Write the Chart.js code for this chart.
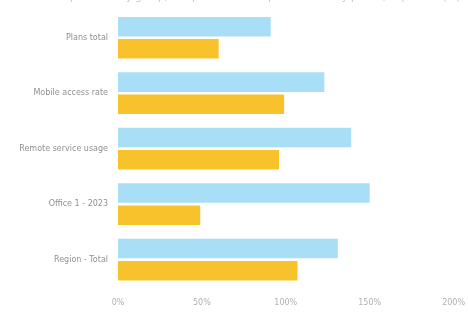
<!DOCTYPE html>
<html>
<head>
<meta charset="utf-8">
<script src="https://cdn.jsdelivr.net/npm/chart.js@4"></script>
<style>
  html, body { margin: 0; padding: 0; background: #fff; overflow: hidden; }
  #wrap { position: relative; width: 468px; height: 320px; margin-top: -9px; }
</style>
</head>
<body>
<div id="wrap"><canvas id="c"></canvas></div>
<script>
const categories = ['Plans total', 'Mobile access rate', 'Remote service usage', 'Office 1 - 2023', 'Region - Total'];
const seriesA = [91, 123, 139, 150, 131];
const seriesB = [60, 99, 96, 49, 107];
const xTicks = [0, 50, 100, 150, 200];

new Chart(document.getElementById('c'), {
    type: 'bar',
    data: {
        labels: categories,
        datasets: [
            {
                label: 'Current',
                data: seriesA,
                backgroundColor: '#a9dff6',
                categoryPercentage: 0.8,
                barPercentage: 0.88
            },
            {
                label: 'Previous',
                data: seriesB,
                backgroundColor: '#f8c22c',
                categoryPercentage: 0.8,
                barPercentage: 0.88
            }
        ]
    },
    options: {
        indexAxis: 'y',
        responsive: true,
        maintainAspectRatio: false,
        animation: false,
        layout: { padding: { left: 4, right: 2 } },
        plugins: {
            legend: { display: false },
            tooltip: { enabled: false },
            title: {
                display: true,
                text: 'Share of respondents by group, compared with the previous survey period, in percent (%)',
                color: '#c4c4c4',
                font: { family: 'DejaVu Sans', size: 10, weight: 'normal' },
                padding: { top: 0, bottom: 7 }
            }
        },
        scales: {
            x: {
                min: xTicks[0],
                max: xTicks[xTicks.length - 1],
                afterBuildTicks: (axis) => { axis.ticks = xTicks.map(v => ({ value: v })); },
                grid: { display: false },
                border: { display: false },
                ticks: {
                    color: '#b0b0b0',
                    font: { family: 'DejaVu Sans', size: 8 },
                    callback: v => v + '%'
                }
            },
            y: {
                afterFit: (axis) => { axis.width = 114; },
                grid: { display: false },
                border: { display: false },
                ticks: {
                    color: '#909090',
                    font: { family: 'DejaVu Sans', size: 8 },
                    padding: 2
                }
            }
        }
    }
});
</script>
</body>
</html>
